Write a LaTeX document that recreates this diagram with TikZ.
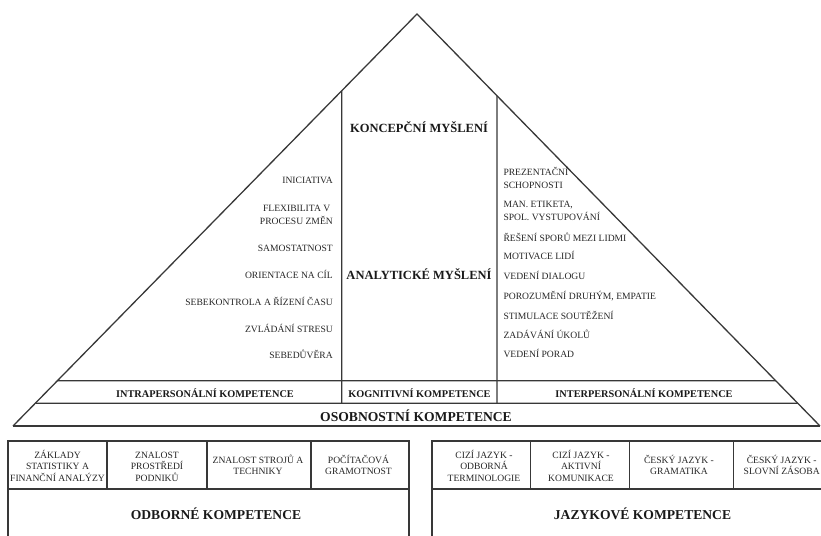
\documentclass[tikz,border=0pt]{standalone}
\usepackage{fontspec}
\setmainfont{Liberation Serif}
\begin{document}
\begin{tikzpicture}[x=1pt,y=-1pt,
  ln/.style={draw=black!78, line width=1.3pt},
  sm/.style={font=\fontsize{9.6}{13}\selectfont, text=black!85, inner sep=0pt},
  cell/.style={font=\fontsize{9.6}{11.3}\selectfont, text=black!85, inner sep=0pt, align=center, anchor=base},
  band/.style={font=\bfseries\fontsize{10.3}{12}\selectfont, text=black!90, inner sep=0pt, anchor=base},
  big/.style={font=\bfseries\fontsize{13.6}{15}\selectfont, text=black!90, inner sep=0pt, anchor=base},
  mid/.style={font=\bfseries\fontsize{12.5}{14}\selectfont, text=black!90, inner sep=0pt, anchor=base},
  lft/.style={sm, anchor=base east, align=right},
  rgt/.style={sm, anchor=base west, align=left}]
\useasboundingbox (0,0) rectangle (821,535);
\clip (0,0) rectangle (821,535);
% pyramid
\coordinate (A) at (417,14);
\coordinate (L) at (13,426);
\coordinate (R) at (820,426);
\draw[ln, line join=miter] (L) -- (A) -- (R);
\draw[ln] (L) -- (R);
\coordinate (h1a) at (0,380.7); \coordinate (h1b) at (10,380.7);
\coordinate (h2a) at (0,403.3); \coordinate (h2b) at (10,403.3);
\draw[ln] (intersection of A--L and h1a--h1b) -- (intersection of A--R and h1a--h1b);
\draw[ln] (intersection of A--L and h2a--h2b) -- (intersection of A--R and h2a--h2b);
\coordinate (v1a) at (341.7,403.3); \coordinate (v1b) at (341.7,0);
\coordinate (v2a) at (497,403.3); \coordinate (v2b) at (497,0);
\draw[ln] (v1a) -- (intersection of A--L and v1a--v1b);
\draw[ln] (v2a) -- (intersection of A--R and v2a--v2b);
% central labels
\node[mid] (konc) at (419,132.4) {KONCEPČNÍ MYŠLENÍ};
\node[mid] (anal) at (419,279.1) {ANALYTICKÉ MYŠLENÍ};
% left column (multi-line nodes: anchor = last baseline)
\node[lft] (l1) at (333,183.9) {INICIATIVA};
\node[lft] (l2) at (333,224.9) {FLEXIBILITA V\hspace*{2.5pt}\\PROCESU ZMĚN};
\node[lft] (l3) at (333,251.5) {SAMOSTATNOST};
\node[lft] (l4) at (333,278.2) {ORIENTACE NA CÍL};
\node[lft] (l5) at (333,305.5) {SEBEKONTROLA A ŘÍZENÍ ČASU};
\node[lft] (l6) at (333,332.2) {ZVLÁDÁNÍ STRESU};
\node[lft] (l7) at (333,358.2) {SEBEDŮVĚRA};
% right column
\node[rgt] (r1) at (503.3,188.5) {PREZENTAČNÍ\\SCHOPNOSTI};
\node[rgt] (r2) at (503.3,220.5) {MAN. ETIKETA,\\SPOL. VYSTUPOVÁNÍ};
\node[rgt] (r3) at (503.3,241.5) {ŘEŠENÍ SPORŮ MEZI LIDMI};
\node[rgt] (r4) at (503.3,259.9) {MOTIVACE LIDÍ};
\node[rgt] (r5) at (503.3,279.9) {VEDENÍ DIALOGU};
\node[rgt] (r6) at (503.3,299.2) {POROZUMĚNÍ DRUHÝM, EMPATIE};
\node[rgt] (r7) at (503.3,319.2) {STIMULACE SOUTĚŽENÍ};
\node[rgt] (r8) at (503.3,338.2) {ZADÁVÁNÍ ÚKOLŮ};
\node[rgt] (r9) at (503.3,357.2) {VEDENÍ PORAD};
% bands
\node[band] (intra) at (205,397.3) {INTRAPERSONÁLNÍ KOMPETENCE};
\node[band] (kogn) at (419.5,397.3) {KOGNITIVNÍ KOMPETENCE};
\node[band] (inter) at (644,397.3) {INTERPERSONÁLNÍ KOMPETENCE};
\node[big] (osob) at (416,421.5) {OSOBNOSTNÍ KOMPETENCE};
% left box
\draw[ln] (8,545) -- (8,441) -- (409,441) -- (409,545);
\draw[ln] (8,489) -- (409,489);
\draw[ln] (107,441) -- (107,489);
\draw[ln] (207,441) -- (207,489);
\draw[ln] (311,441) -- (311,489);
\node[cell] (c1) at (57.5,481.2) {ZÁKLADY\\STATISTIKY A\\FINANČNÍ ANALÝZY};
\node[cell] (c2) at (157,481.2) {ZNALOST\\PROSTŘEDÍ\\PODNIKŮ};
\node[cell] (c3) at (258,474.9) {ZNALOST STROJŮ A\\TECHNIKY};
\node[cell] (c4) at (358.5,474.9) {POČÍTAČOVÁ\\GRAMOTNOST};
\node[big] (odb) at (216,519) {ODBORNÉ KOMPETENCE};
% right box
\draw[ln] (432,545) -- (432,441) -- (830,441);
\draw[ln] (432,489) -- (830,489);
\draw[ln] (530.7,441) -- (530.7,489);
\draw[ln] (629.3,441) -- (629.3,489);
\draw[ln] (733.3,441) -- (733.3,489);
\node[cell] (d1) at (484,481.2) {CIZÍ JAZYK -\\ODBORNÁ\\TERMINOLOGIE};
\node[cell] (d2) at (581,481.2) {CIZÍ JAZYK -\\AKTIVNÍ\\KOMUNIKACE};
\node[cell] (d3) at (679,474.9) {ČESKÝ JAZYK -\\GRAMATIKA};
\node[cell] (d4) at (781.7,474.9) {ČESKÝ JAZYK -\\SLOVNÍ ZÁSOBA};
\node[big] (jaz) at (642.5,519) {JAZYKOVÉ KOMPETENCE};
\end{tikzpicture}
\end{document}
